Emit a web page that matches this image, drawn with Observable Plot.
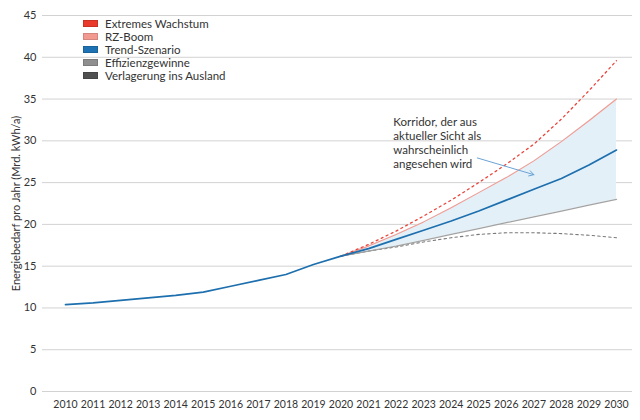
<!DOCTYPE html>
<html><head><meta charset="utf-8">
<script src="https://cdn.jsdelivr.net/npm/d3@7"></script>
<script src="https://cdn.jsdelivr.net/npm/@observablehq/plot@0.6"></script>
<style>
body{margin:0;background:#fff;font-family:Lato,"Open Sans",sans-serif;}
#wrap{position:relative;width:640px;height:420px;}
#legend{position:absolute;left:83px;top:17px;font-size:11.5px;color:#333;line-height:13px;}
#legend .row{display:flex;align-items:center;height:13px;}
#legend .sw{width:15px;height:7px;margin-right:7px;box-sizing:border-box;}
</style></head><body><div id="wrap"></div>
<script>
// ---- data ----
const xTicks = [2010,2011,2012,2013,2014,2015,2016,2017,2018,2019,2020,2021,2022,2023,2024,2025,2026,2027,2028,2029,2030];
const yTicks = [0,5,10,15,20,25,30,35,40,45];
const historyYears = [2010,2011,2012,2013,2014,2015,2016,2017,2018,2019,2020];
const historyValues = [10.4,10.6,10.9,11.2,11.5,11.9,12.6,13.3,14.0,15.2,16.2];
const scenarioYears = [2020,2021,2022,2023,2024,2025,2026,2027,2028,2029,2030];
const extremesWachstum = [16.2,17.6,19.2,21.0,22.9,25.0,27.2,29.6,32.6,36.0,39.6];
const rzBoom = [16.2,17.4,18.8,20.3,22.0,23.8,25.6,27.6,29.9,32.4,35.0];
const trendSzenario = [16.2,17.1,18.2,19.3,20.4,21.6,22.9,24.2,25.5,27.1,28.9];
const effizienzgewinne = [16.2,16.8,17.4,18.1,18.8,19.5,20.2,20.9,21.6,22.3,23.0];
const verlagerung = [16.2,16.8,17.3,17.9,18.4,18.8,19.0,19.0,18.9,18.7,18.4];
const seriesNames = ["Extremes Wachstum","RZ-Boom","Trend-Szenario","Effizienzgewinne","Verlagerung ins Ausland"];
const seriesColors = ["#e8392a","#f39a90","#1d72b3","#8f8f8f","#505050"];
const annotationText = "Korridor, der aus\naktueller Sicht als\nwahrscheinlich\nangesehen wird";
const annotationPos = {x: 2021.9, y: 32.9};
const arrowPos = {x1: 2024.95, y1: 27.95, x2: 2027.0, y2: 25.95};

// ---- tables ----
const hist = historyYears.map((year,i)=>({year, value: historyValues[i]}));
const mk = arr => scenarioYears.map((year,i)=>({year, value: arr[i]}));
const band = scenarioYears.map((year,i)=>({year, low: effizienzgewinne[i], high: rzBoom[i]}));
const trendAll = hist.concat(mk(trendSzenario).slice(1));

const chart = Plot.plot({
  width: 640, height: 420,
  marginLeft: 42, marginRight: 8, marginTop: 15, marginBottom: 29,
  style: {fontFamily: "Lato, 'Open Sans', sans-serif", fontSize: "11px", color: "#333"},
  x: {type: "linear", domain: [2010, 2030], insetLeft: 23, insetRight: 16},
  y: {domain: [0, 45]},
  marks: [
    Plot.ruleY(yTicks, {stroke: "#d2d2d2", strokeWidth: 1}),
    Plot.areaY(band, {x: "year", y1: "low", y2: "high", fill: "#e4f0f8"}),
    Plot.line(mk(verlagerung), {x: "year", y: "value", stroke: "#7a7a7a", strokeWidth: 1.1, strokeDasharray: "2.5,3"}),
    Plot.line(mk(effizienzgewinne), {x: "year", y: "value", stroke: "#a3a3a3", strokeWidth: 1.3}),
    Plot.line(mk(rzBoom), {x: "year", y: "value", stroke: "#f39a90", strokeWidth: 1.1}),
    Plot.line(mk(extremesWachstum), {x: "year", y: "value", stroke: "#e8453c", strokeWidth: 1.3, strokeDasharray: "2,3.5"}),
    Plot.line(trendAll, {x: "year", y: "value", stroke: "#1d6fae", strokeWidth: 1.7}),
    Plot.arrow([arrowPos], {x1: "x1", y1: "y1", x2: "x2", y2: "y2", stroke: "#6aa3d5", strokeWidth: 1, headLength: 8}),
    Plot.text([annotationPos], {x: "x", y: "y", text: () => annotationText, textAnchor: "start", lineAnchor: "top", lineHeight: 1.2, fontSize: 11.5, fill: "#333"}),
    Plot.axisX(xTicks, {tickSize: 0, tickPadding: 9, tickFormat: d => String(d), fontSize: 10.5, label: null}),
    Plot.axisY(yTicks, {tickSize: 0, tickPadding: 6, fontSize: 11, label: "Energiebedarf pro Jahr (Mrd. kWh/a)", labelAnchor: "center", labelArrow: "none", labelOffset: 30})
  ]
});
const wrap = document.getElementById("wrap");
wrap.appendChild(chart);
const leg = document.createElement("div");
leg.id = "legend";
seriesNames.forEach((n,i)=>{
  const r = document.createElement("div"); r.className = "row";
  const s = document.createElement("span"); s.className = "sw"; s.style.background = seriesColors[i];
  s.style.border = "1px solid " + d3.color(seriesColors[i]).darker(0.4);
  const t = document.createElement("span"); t.textContent = n;
  r.appendChild(s); r.appendChild(t); leg.appendChild(r);
});
wrap.appendChild(leg);
</script></body></html>
